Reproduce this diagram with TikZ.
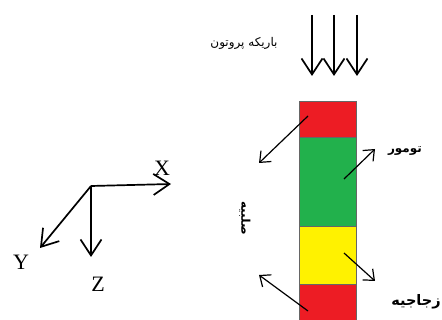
\documentclass[tikz,border=0pt]{standalone}
\usepackage{fontspec}
\setmainfont{Liberation Serif}
\newfontfamily\arabicfont[Script=Arabic]{DejaVu Sans}
\TeXXeTstate=1
\usetikzlibrary{arrows.meta}
\definecolor{barred}{HTML}{ED1C24}
\definecolor{bargreen}{HTML}{22B14C}
\definecolor{baryellow}{HTML}{FFF200}
\tikzset{
  seg/.style={draw=black!60, line width=0.6pt},
  ptr/.style={line width=1.2pt, -{Straight Barb[length=9pt,width=15pt,line width=1.2pt]}},
  beam/.style={line width=1.7pt, -{Straight Barb[length=16pt,width=21pt,line width=1.7pt]}},
  axis/.style={line width=1.7pt, -{Straight Barb[length=16pt,width=21pt,line width=1.7pt]}},
  fa/.style={font=\arabicfont, inner sep=0pt},
  axlab/.style={font=\fontsize{22}{22}\selectfont, inner sep=0pt}
}
\begin{document}
\begin{tikzpicture}[x=1pt,y=-1pt]
\useasboundingbox (0,0) rectangle (442,320);
% bar
\fill[barred] (299,101) rectangle (356,137);
\fill[bargreen] (299,137) rectangle (356,226);
\fill[baryellow] (299,226) rectangle (356,284);
\fill[barred] (299,284) rectangle (356,320);
\draw[seg] (299,320) -- (299,101) -- (356,101) -- (356,320);
\draw[seg] (299,137) -- (356,137);
\draw[seg] (299,226) -- (356,226);
\draw[seg] (299,284) -- (356,284);
% beam
\coordinate (b1s) at (312,15); \coordinate (b1e) at (312,76);
\coordinate (b2s) at (334,15); \coordinate (b2e) at (334,76);
\coordinate (b3s) at (357,15); \coordinate (b3e) at (357,76);
\draw[beam] (b1s) -- (b1e);
\draw[beam] (b2s) -- (b2e);
\draw[beam] (b3s) -- (b3e);
\node[fa, font=\arabicfont\fontsize{12}{13}\selectfont] (beamlab) at (244,43) {\beginR باریکه پروتون\endR};
% pointers
\coordinate (p1s) at (308,116); \coordinate (p1e) at (259,163);
\coordinate (p2s) at (344,179); \coordinate (p2e) at (375,149);
\coordinate (p3s) at (344,253); \coordinate (p3e) at (375,281);
\coordinate (p4s) at (308,311); \coordinate (p4e) at (259,275);
\draw[ptr] (p1s) -- (p1e);
\draw[ptr] (p2s) -- (p2e);
\draw[ptr] (p3s) -- (p3e);
\draw[ptr] (p4s) -- (p4e);
\node[fa, font=\arabicfont\bfseries\fontsize{12}{13}\selectfont] (tumor) at (405,151) {\beginR تومور\endR};
\node[fa, font=\arabicfont\bfseries\fontsize{14.5}{15}\selectfont] (vitreous) at (416,302) {\beginR زجاجیه\endR};
\node[fa, font=\arabicfont\bfseries\fontsize{12}{13}\selectfont, rotate=-90] (sclera) at (245,218) {\beginR صلبیه\endR};
% axes
\coordinate (o) at (91,186);
\coordinate (xe) at (171,184);
\coordinate (ye) at (40,248);
\coordinate (ze) at (91,257);
\draw[axis] (o) -- (xe);
\draw[axis] (o) -- (ye);
\draw[axis] (o) -- (ze);
\node[axlab] (xl) at (162,168) {X};
\node[axlab] (yl) at (21,262) {Y};
\node[axlab] (zl) at (98,284) {Z};
\end{tikzpicture}
\end{document}
